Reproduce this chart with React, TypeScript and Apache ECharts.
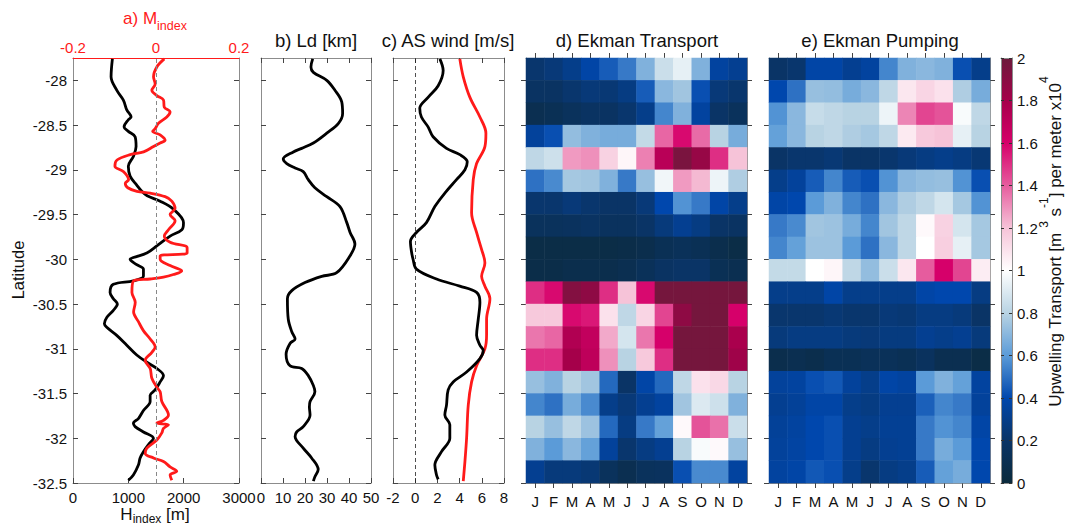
import React, { useEffect, useRef } from "react";
import * as echarts from "echarts";

const FONT = "'Liberation Sans', Arial, Helvetica, sans-serif";
const FRAME = "#8c8c8c";
const TICK = "#444";

const LAT_MIN = -32.5;
const LAT_MAX = -27.75;
const LAT_TICKS = [-32.5, -32, -31.5, -31, -30.5, -30, -29.5, -29, -28.5, -28];
const LAT_ROWS = ["-27.875", "-28.125", "-28.375", "-28.625", "-28.875", "-29.125", "-29.375", "-29.625", "-29.875", "-30.125", "-30.375", "-30.625", "-30.875", "-31.125", "-31.375", "-31.625", "-31.875", "-32.125", "-32.375"];
const MONTHS = ["J", "F", "M", "A", "M", "J", "J", "A", "S", "O", "N", "D"];

// a) H_index [m] (black) and M_index (red)
const H_INDEX = [[712,-27.76],[688,-27.96],[790,-28.11],[910,-28.22],[972,-28.33],[1050,-28.41],[1000,-28.44],[923,-28.52],[1000,-28.57],[1122,-28.63],[1140,-28.74],[1091,-28.85],[1000,-28.96],[1032,-29.07],[1152,-29.17],[1243,-29.24],[1340,-29.29],[1575,-29.35],[1816,-29.44],[1997,-29.59],[1967,-29.67],[1756,-29.74],[1515,-29.85],[1334,-29.93],[1091,-29.98],[1032,-30.0],[1152,-30.06],[1273,-30.11],[1273,-30.19],[1091,-30.24],[729,-30.28],[670,-30.37],[729,-30.44],[802,-30.5],[729,-30.57],[610,-30.65],[567,-30.72],[610,-30.76],[790,-30.85],[972,-30.96],[1152,-31.07],[1334,-31.15],[1515,-31.22],[1635,-31.3],[1575,-31.37],[1484,-31.46],[1394,-31.52],[1394,-31.59],[1273,-31.69],[1182,-31.78],[1091,-31.83],[1122,-31.87],[1273,-31.93],[1454,-32.0],[1364,-32.07],[1273,-32.15],[1213,-32.22],[1182,-32.3],[1091,-32.41],[1000,-32.47]];
const M_INDEX = [[0.02,-27.76],[0.002,-27.85],[-0.006,-27.96],[-0.002,-28.04],[-0.01,-28.11],[0.002,-28.17],[0.018,-28.22],[0.02,-28.3],[0.034,-28.35],[0.026,-28.41],[0.006,-28.48],[-0.002,-28.54],[-0.008,-28.57],[0.01,-28.61],[0.022,-28.67],[0.01,-28.7],[-0.006,-28.74],[-0.03,-28.8],[-0.062,-28.83],[-0.094,-28.89],[-0.099,-28.96],[-0.078,-29.02],[-0.066,-29.11],[-0.074,-29.15],[-0.068,-29.2],[-0.046,-29.24],[-0.014,-29.26],[0.022,-29.3],[0.038,-29.35],[0.046,-29.43],[0.034,-29.5],[0.046,-29.57],[0.03,-29.67],[0.02,-29.74],[0.034,-29.81],[0.075,-29.87],[0.075,-29.93],[0.01,-29.96],[0.01,-30.0],[0.034,-30.07],[0.062,-30.13],[0.042,-30.17],[0.018,-30.2],[-0.014,-30.22],[-0.054,-30.24],[-0.058,-30.37],[-0.05,-30.48],[-0.054,-30.59],[-0.042,-30.7],[-0.03,-30.8],[-0.014,-30.89],[-0.002,-30.98],[-0.01,-31.04],[-0.026,-31.13],[-0.014,-31.22],[-0.01,-31.33],[0.002,-31.43],[0.01,-31.48],[0.014,-31.59],[0.03,-31.74],[0.018,-31.8],[0.002,-31.83],[0.03,-31.85],[0.018,-31.89],[0.014,-31.94],[0.002,-32.02],[-0.022,-32.11],[-0.026,-32.17],[-0.006,-32.22],[0.018,-32.26],[0.034,-32.32],[0.05,-32.37],[0.034,-32.41],[0.038,-32.47]];

// b) Ld [km]
const LD = [[23.5,-27.76],[22.7,-27.85],[23.8,-27.91],[29.9,-28.0],[33.6,-28.11],[36.7,-28.24],[37.1,-28.37],[35.2,-28.48],[29.9,-28.59],[23.8,-28.7],[18.5,-28.76],[14.7,-28.8],[10.1,-28.88],[11.7,-28.93],[15.5,-28.98],[19.2,-29.02],[21.5,-29.11],[24.5,-29.2],[29.9,-29.3],[35.9,-29.41],[39,-29.59],[40.5,-29.7],[42.7,-29.83],[40.5,-29.96],[34.4,-30.15],[27.6,-30.19],[20,-30.26],[14,-30.35],[12,-30.44],[12.4,-30.67],[14,-30.81],[15.5,-30.89],[13.2,-30.94],[11.4,-31.06],[13.2,-31.19],[18.5,-31.22],[21.5,-31.3],[23.8,-31.41],[24.5,-31.48],[22.3,-31.59],[22,-31.65],[22.3,-31.74],[19.2,-31.87],[16.2,-31.93],[15.5,-31.98],[19.2,-32.11],[23,-32.22],[26,-32.35],[24.5,-32.43],[23.8,-32.48]];

// c) AS wind [m/s]
const WIND_BLACK = [[2.22,-27.76],[2.52,-27.89],[2.07,-28.06],[1.16,-28.19],[0.41,-28.31],[0.56,-28.41],[1.16,-28.52],[1.61,-28.63],[2.82,-28.76],[4.02,-28.83],[4.69,-28.91],[4.48,-29.0],[3.72,-29.11],[2.67,-29.26],[1.77,-29.41],[1.01,-29.59],[0.11,-29.7],[-0.43,-29.8],[-0.34,-29.91],[-0.19,-30.0],[0.11,-30.11],[1.92,-30.22],[4.02,-30.3],[5.53,-30.37],[5.83,-30.48],[5.68,-30.67],[5.53,-30.85],[5.83,-30.96],[6.13,-31.02],[5.83,-31.11],[4.63,-31.26],[3.42,-31.37],[2.97,-31.46],[2.82,-31.63],[2.67,-31.74],[3.12,-31.85],[3.12,-32.0],[2.37,-32.15],[1.77,-32.3],[1.92,-32.41],[2.07,-32.46]];
const WIND_RED = [[4.02,-27.76],[4.33,-27.96],[4.93,-28.19],[5.83,-28.41],[6.37,-28.59],[6.28,-28.74],[5.53,-28.93],[5.23,-29.11],[5.08,-29.48],[5.53,-29.7],[5.98,-29.89],[6.28,-30.04],[5.98,-30.19],[6.28,-30.3],[6.73,-30.44],[6.43,-30.67],[6.43,-30.85],[6.28,-31.0],[5.53,-31.19],[5.08,-31.37],[4.78,-31.63],[4.63,-32.0],[4.48,-32.26],[4.33,-32.48]];

// d) Ekman Transport, rows from north (top) to south, columns J..D
const EKMAN_TRANSPORT = [
  [0.22,0.25,0.30,0.38,0.45,0.52,0.68,0.85,0.93,0.68,0.36,0.32],
  [0.18,0.18,0.22,0.25,0.24,0.28,0.45,0.70,0.75,0.42,0.25,0.22],
  [0.10,0.12,0.15,0.18,0.18,0.22,0.30,0.55,0.68,0.36,0.20,0.15],
  [0.35,0.42,0.72,0.68,0.66,0.66,0.83,1.38,1.58,1.37,0.80,0.66],
  [0.82,0.86,1.28,1.30,1.15,1.03,1.33,1.72,1.95,1.85,1.50,1.20],
  [0.50,0.56,0.76,0.75,0.68,0.52,0.73,0.96,1.28,1.22,0.95,0.78],
  [0.22,0.22,0.25,0.22,0.20,0.20,0.25,0.40,0.58,0.52,0.38,0.30],
  [0.15,0.15,0.16,0.18,0.16,0.16,0.20,0.26,0.32,0.28,0.20,0.18],
  [0.05,0.05,0.05,0.05,0.05,0.06,0.08,0.12,0.14,0.12,0.08,0.05],
  [0.06,0.06,0.08,0.08,0.08,0.10,0.14,0.18,0.20,0.20,0.12,0.10],
  [1.50,1.58,1.92,1.88,1.50,1.20,1.58,1.97,1.97,1.97,1.97,1.97],
  [1.18,1.18,1.58,1.55,1.10,0.82,1.14,1.45,1.88,1.97,1.97,1.60],
  [1.35,1.38,1.75,1.68,1.25,0.88,1.35,1.60,1.97,1.97,1.97,1.78],
  [1.50,1.50,1.80,1.70,1.30,0.80,1.18,1.50,1.97,1.97,1.97,1.82],
  [0.73,0.68,0.80,0.75,0.48,0.20,0.38,0.48,0.82,1.10,1.13,0.80],
  [0.55,0.50,0.66,0.56,0.30,0.25,0.32,0.36,0.75,0.90,0.86,0.68],
  [0.80,0.73,0.82,0.74,0.48,0.28,0.52,0.62,1.02,1.42,1.36,0.85],
  [0.68,0.60,0.70,0.62,0.35,0.22,0.28,0.32,0.80,0.98,1.02,0.73],
  [0.32,0.26,0.26,0.24,0.15,0.10,0.15,0.16,0.42,0.56,0.56,0.36],
];

// e) Ekman Pumping
const EKMAN_PUMPING = [
  [0.20,0.22,0.38,0.38,0.32,0.36,0.55,0.68,0.70,0.68,0.42,0.30],
  [0.40,0.50,0.73,0.72,0.66,0.70,0.82,1.08,1.14,1.10,0.78,0.66],
  [0.58,0.70,0.84,0.82,0.80,0.80,0.95,1.32,1.45,1.42,0.98,0.82],
  [0.62,0.70,0.80,0.82,0.78,0.76,0.82,1.07,1.18,1.20,0.93,0.80],
  [0.20,0.22,0.22,0.24,0.20,0.20,0.22,0.25,0.28,0.30,0.28,0.24],
  [0.30,0.35,0.45,0.55,0.45,0.42,0.58,0.70,0.72,0.73,0.58,0.42],
  [0.38,0.40,0.60,0.68,0.55,0.50,0.70,0.78,0.82,0.88,0.76,0.58],
  [0.52,0.56,0.75,0.74,0.66,0.55,0.75,0.82,1.02,1.15,0.88,0.76],
  [0.55,0.62,0.74,0.74,0.60,0.50,0.70,0.82,1.00,1.16,0.93,0.76],
  [0.83,0.83,1.00,1.03,0.82,0.72,0.85,1.08,1.40,1.60,1.45,1.06],
  [0.30,0.30,0.30,0.38,0.30,0.30,0.30,0.30,0.38,0.40,0.40,0.28],
  [0.22,0.22,0.22,0.24,0.22,0.22,0.25,0.24,0.28,0.28,0.26,0.20],
  [0.26,0.28,0.28,0.28,0.26,0.25,0.27,0.27,0.32,0.30,0.32,0.26],
  [0.08,0.10,0.08,0.12,0.12,0.14,0.14,0.12,0.16,0.10,0.10,0.05],
  [0.35,0.36,0.42,0.44,0.35,0.30,0.38,0.36,0.60,0.68,0.62,0.36],
  [0.32,0.34,0.38,0.38,0.30,0.28,0.32,0.32,0.46,0.55,0.52,0.35],
  [0.34,0.36,0.40,0.42,0.32,0.30,0.33,0.33,0.52,0.58,0.55,0.38],
  [0.35,0.37,0.40,0.42,0.32,0.28,0.32,0.33,0.52,0.66,0.60,0.40],
  [0.36,0.38,0.44,0.42,0.30,0.22,0.28,0.30,0.45,0.62,0.66,0.40],
];

const CMAP = ["#0b2a3c", "#0a3466", "#0047ad", "#5b9bd8", "#b8d3e3", "#ffffff", "#f6c3d8", "#e65c9e", "#d6006a", "#a5004a", "#6c1a3b"];

// caption pieces: [text, raised/lowered?]
const CB_LABEL: [string, boolean][] = [["Upwelling Transport [m ", false], ["3", true], [" s", false], ["-1", true], ["] per meter x10", false], ["4", true]];
const H_LABEL: [string, boolean][] = [["H", false], ["index", true], [" [m]", false]];

const G = {
  a: { left: 73, width: 166 },
  b: { left: 261, width: 110 },
  c: { left: 393, width: 111 },
  d: { left: 526, width: 221 },
  e: { left: 769, width: 221 },
  cb: { left: 1001, width: 11 },
};
const TOP = 58;
const HEIGHT = 425;

function heat(rows: number[][]) {
  const out: number[][] = [];
  rows.forEach((row, r) => row.forEach((v, c) => out.push([c, r, v])));
  return out;
}

function latAxis(grid: number, position: string, labels: boolean, inside: boolean) {
  return {
    type: "value", gridIndex: grid, position, min: LAT_MIN, max: LAT_MAX,
    axisLine: { show: true, onZero: false, lineStyle: { color: FRAME, width: 1 } },
    axisTick: { show: true, inside, length: 5, customValues: LAT_TICKS, lineStyle: { color: TICK } },
    axisLabel: { show: labels, customValues: LAT_TICKS, fontSize: 15, color: "#111", margin: 6, fontFamily: FONT, formatter: (v: number) => String(v) },
    splitLine: { show: false },
  };
}

function valXAxis(grid: number, position: string, min: number, max: number, interval: number, labels: boolean, ticks = true) {
  return {
    type: "value", gridIndex: grid, position, min, max, interval,
    axisLine: { show: true, onZero: false, lineStyle: { color: FRAME, width: 1 } },
    axisTick: { show: ticks, inside: true, length: 5, lineStyle: { color: TICK } },
    axisLabel: { show: labels, fontSize: 15, color: "#111", margin: 7, fontFamily: FONT, formatter: (v: number) => String(v) },
    splitLine: { show: false },
  };
}

function monthAxis(grid: number, position: string, labels: boolean) {
  return {
    type: "category", gridIndex: grid, position, data: MONTHS, boundaryGap: true,
    axisLine: { show: true, onZero: false, lineStyle: { color: FRAME, width: 1 } },
    axisTick: { show: true, inside: false, alignWithLabel: true, length: 5, lineStyle: { color: TICK } },
    axisLabel: { show: labels, interval: 0, fontSize: 15, color: "#111", margin: 11, fontFamily: FONT },
    splitLine: { show: false },
  };
}

function lineSeries(data: number[][], xi: number, yi: number, color: string, extra: any = {}) {
  return {
    type: "line", data, xAxisIndex: xi, yAxisIndex: yi, showSymbol: false, smooth: 0.35,
    lineStyle: { color, width: 2.8 }, silent: true, ...extra,
  };
}

function titleText(x: number, y: number, text: string, color = "#111") {
  return { type: "text", x, y, style: { text, fill: color, font: `18.5px ${FONT}`, align: "center", verticalAlign: "middle" } };
}

const measureCtx = () => document.createElement("canvas").getContext("2d") as CanvasRenderingContext2D;

function colorbarCaption() {
  const ctx = measureCtx();
  const MAIN = 17, SUP = 12;
  const widths = CB_LABEL.map(([t, sup]) => {
    ctx.font = `${sup ? SUP : MAIN}px 'Liberation Sans'`;
    return ctx.measureText(t).width;
  });
  const total = widths.reduce((a, b) => a + b, 0);
  let y = 241.5 + total / 2;
  const els: any[] = [];
  CB_LABEL.forEach(([t, sup], i) => {
    els.push({
      type: "text", x: sup ? 1044 : 1055, y, rotation: Math.PI / 2,
      style: { text: t, fill: "#111", font: `${sup ? SUP : MAIN}px ${FONT}`, align: "left", verticalAlign: "middle" },
    });
    y -= widths[i];
  });
  return els;
}

function hIndexCaption() {
  const ctx = measureCtx();
  const MAIN = 17, SUB = 12;
  const widths = H_LABEL.map(([t, sub]) => {
    ctx.font = `${sub ? SUB : MAIN}px 'Liberation Sans'`;
    return ctx.measureText(t).width;
  });
  const total = widths.reduce((a, b) => a + b, 0);
  let x = 155 - total / 2;
  const els: any[] = [];
  H_LABEL.forEach(([t, sub], i) => {
    els.push({
      type: "text", x, y: sub ? 519 : 514,
      style: { text: t, fill: "#111", font: `${sub ? SUB : MAIN}px ${FONT}`, align: "left", verticalAlign: "middle" },
    });
    x += widths[i];
  });
  return els;
}

export default function App() {
  const ref = useRef<HTMLDivElement>(null);
  useEffect(() => {
    if (!ref.current) return;
    const chart = echarts.init(ref.current, null, { renderer: "svg" });
    const grids = [G.a, G.b, G.c, G.d, G.e, G.cb].map((g) => ({ left: g.left, width: g.width, top: TOP, height: HEIGHT, containLabel: false }));

    const option: any = {
      animation: false,
      backgroundColor: "#ffffff",
      textStyle: { fontFamily: FONT },
      grid: grids,
      xAxis: [
        valXAxis(0, "bottom", 0, 3000, 1000, true),
        { ...valXAxis(0, "top", -0.2, 0.2, 0.2, true, false), axisLine: { show: true, onZero: false, lineStyle: { color: "#ff1a1a", width: 1 } }, axisLabel: { show: true, fontSize: 15, color: "#ff1a1a", margin: 3, fontFamily: FONT, formatter: (v: number) => String(v) } },
        valXAxis(1, "bottom", 0, 50, 10, true),
        valXAxis(1, "top", 0, 50, 10, false),
        valXAxis(2, "bottom", -2, 8, 2, true),
        valXAxis(2, "top", -2, 8, 2, false),
        monthAxis(3, "bottom", true),
        monthAxis(3, "top", false),
        monthAxis(4, "bottom", true),
        monthAxis(4, "top", false),
        { type: "value", gridIndex: 5, position: "bottom", min: 0, max: 1, axisLine: { show: true, onZero: false, lineStyle: { color: FRAME } }, axisTick: { show: false }, axisLabel: { show: false }, splitLine: { show: false } },
        { type: "value", gridIndex: 5, position: "top", min: 0, max: 1, axisLine: { show: true, onZero: false, lineStyle: { color: FRAME } }, axisTick: { show: false }, axisLabel: { show: false }, splitLine: { show: false } },
      ],
      yAxis: [
        latAxis(0, "left", true, true),
        latAxis(0, "right", false, true),
        latAxis(1, "left", false, true),
        latAxis(1, "right", false, true),
        latAxis(2, "left", false, true),
        latAxis(2, "right", false, true),
        { type: "category", gridIndex: 3, position: "left", data: LAT_ROWS, inverse: true, show: false },
        latAxis(3, "left", false, false),
        latAxis(3, "right", false, false),
        { type: "category", gridIndex: 4, position: "left", data: LAT_ROWS, inverse: true, show: false },
        latAxis(4, "left", false, false),
        latAxis(4, "right", false, false),
        { type: "value", gridIndex: 5, position: "left", min: 0, max: 2, interval: 0.2, z: 10,
          axisLine: { show: true, onZero: false, lineStyle: { color: FRAME } },
          axisTick: { show: true, inside: true, length: 3, lineStyle: { color: "#333" } }, axisLabel: { show: false }, splitLine: { show: false } },
        { type: "value", gridIndex: 5, position: "right", min: 0, max: 2, interval: 0.2, z: 10,
          axisLine: { show: true, onZero: false, lineStyle: { color: FRAME } },
          axisTick: { show: true, inside: true, length: 3, lineStyle: { color: "#333" } },
          axisLabel: { show: true, fontSize: 15, color: "#111", margin: 5, fontFamily: FONT }, splitLine: { show: false } },
      ],
      visualMap: {
        type: "continuous", show: false, min: 0, max: 2, dimension: 2, seriesIndex: [5, 6],
        inRange: { color: CMAP },
      },
      series: [
        lineSeries(H_INDEX, 0, 0, "#000", {
          markLine: { silent: true, symbol: ["none", "none"], label: { show: false },
            lineStyle: { type: [4, 3], color: "#888", width: 1 }, data: [{ xAxis: 1500 }] },
        }),
        lineSeries(M_INDEX, 1, 0, "#ff1a1a"),
        lineSeries(LD, 2, 2, "#000"),
        lineSeries(WIND_RED, 4, 4, "#ff1a1a", {
          markLine: { silent: true, symbol: ["none", "none"], label: { show: false },
            lineStyle: { type: [4, 3], color: "#222", width: 0.8 }, data: [{ xAxis: 0 }] },
        }),
        lineSeries(WIND_BLACK, 4, 4, "#000"),
        { type: "heatmap", xAxisIndex: 6, yAxisIndex: 6, data: heat(EKMAN_TRANSPORT), progressive: 0, emphasis: { disabled: true }, silent: true },
        { type: "heatmap", xAxisIndex: 8, yAxisIndex: 9, data: heat(EKMAN_PUMPING), progressive: 0, emphasis: { disabled: true }, silent: true },
      ],
      graphic: [
        {
          type: "rect", z: -1, silent: true,
          shape: { x: G.cb.left, y: TOP, width: G.cb.width, height: HEIGHT },
          style: { fill: new echarts.graphic.LinearGradient(0, 1, 0, 0, CMAP.map((c, i) => ({ offset: i / (CMAP.length - 1), color: c }))) },
        },
        {
          type: "text", x: 155, y: 18,
          style: {
            text: "{m|a) M}{s|index}", align: "center", verticalAlign: "middle", fill: "#ff1a1a",
            rich: {
              m: { fontSize: 17, lineHeight: 28, fontFamily: FONT, fill: "#ff1a1a" },
              s: { fontSize: 12.5, lineHeight: 11, verticalAlign: "bottom", fontFamily: FONT, fill: "#ff1a1a" },
            },
          },
        },
        titleText(316, 40, "b) Ld [km]"),
        titleText(448, 40, "c) AS wind [m/s]"),
        titleText(637, 40, "d) Ekman Transport"),
        titleText(880, 40, "e) Ekman Pumping"),
        ...hIndexCaption(),
        {
          type: "text", x: 18, y: 270, rotation: Math.PI / 2,
          style: { text: "Latitude", fill: "#111", font: `16.5px ${FONT}`, align: "center", verticalAlign: "middle" },
        },
        ...colorbarCaption(),
      ],
    };
    chart.setOption(option);
    return () => chart.dispose();
  }, []);
  return <div ref={ref} style={{ position: "fixed", left: 0, top: 0, width: 1066, height: 527, background: "#fff" }} />;
}
